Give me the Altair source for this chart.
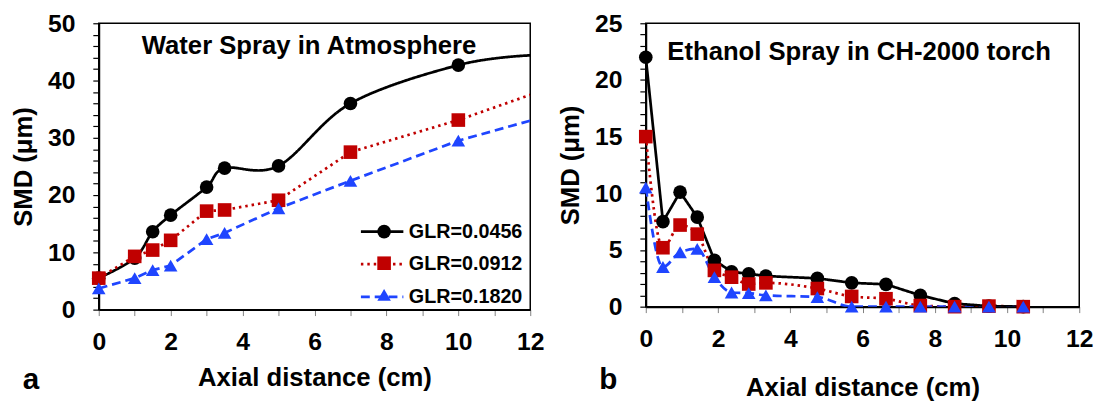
import altair as alt
import pandas as pd

FONT = "Liberation Sans"

series_names = ["GLR=0.0456", "GLR=0.0912", "GLR=0.1820"]
series_colors = ["#000000", "#C00000", "#1F45FF"]
series_shapes = ["circle", "square", "triangle-up"]
series_dashes = [[1, 0], [2.5, 4], [9, 5]]
# marker legend uses its own (label-less) domain so it is not merged with the line legend
marker_names = [n + " " for n in series_names]

# Panel a: water spray in atmosphere
a_x = [0, 1, 1.5, 2, 3, 3.5, 5, 7, 10, 12]
a_black = [5.5, 9.0, 13.6, 16.5, 21.4, 24.7, 25.1, 36.0, 42.7, 44.4]
a_red = [5.5, 9.3, 10.4, 12.1, 17.2, 17.4, 19.1, 27.5, 33.1, 37.5]
a_blue = [3.7, 5.5, 6.9, 7.7, 12.3, 13.4, 17.7, 22.5, 29.5, 33.0]
a_marker = [True, True, True, True, True, True, True, True, True, False]

# Panel b: ethanol spray in CH-2000 torch
b_x = [0, 0.475, 0.95, 1.425, 1.9, 2.375, 2.85, 3.325, 4.75, 5.7, 6.65, 7.6, 8.55, 9.5, 10.45]
b_black = [22.0, 7.5, 10.1, 7.9, 4.1, 3.07, 2.9, 2.7, 2.5, 2.1, 1.97, 1.0, 0.27, 0.05, 0.0]
b_red = [15.0, 5.2, 7.2, 6.4, 3.2, 2.6, 2.0, 2.1, 1.6, 0.9, 0.7, 0.1, 0.0, 0.05, 0.0]
b_blue = [10.5, 3.5, 4.8, 5.1, 2.6, 1.25, 1.2, 1.0, 0.85, 0.0, 0.0, 0.0, 0.0, 0.0, 0.0]
b_marker = [True] * 15

panel_titles = ["Water Spray in Atmosphere", "Ethanol Spray in CH-2000 torch"]
panel_letters = ["a", "b"]
x_title = "Axial distance (cm)"
y_title = "SMD (μm)"


def long_df(xs, ys_by_series, marker_flags):
    rows = []
    for name, mname, ys in zip(series_names, marker_names, ys_by_series):
        for x, y, m in zip(xs, ys, marker_flags):
            rows.append({"x": x, "y": y, "series": name, "series2": mname, "m": m})
    return pd.DataFrame(rows)


def panel(df, y_max, y_step, y_label_step, width, height, smooth_series, smooth_interp,
          title_text, title_x, title_y, letter, letter_x, letter_y, x_title_pad, show_legend):
    x_enc = alt.X(
        "x:Q", title=x_title,
        scale=alt.Scale(domain=[0, 12], nice=False, zero=False),
        axis=alt.Axis(values=list(range(0, 13)),
                      labelExpr="datum.value % 2 == 0 ? datum.label : ''",
                      labelFlush=False, labelOverlap=False, labelPadding=14,
                      titlePadding=x_title_pad, tickColor="#808080", tickWidth=1),
    )
    y_enc = alt.Y(
        "y:Q", title=y_title,
        scale=alt.Scale(domain=[0, y_max], nice=False),
        axis=alt.Axis(values=list(range(0, y_max + 1, y_step)),
                      labelExpr=f"datum.value % {y_label_step} == 0 ? datum.label : ''",
                      labelFlush=False, labelOverlap=False, labelPadding=18, titlePadding=11),
    )
    if show_legend:
        line_leg = alt.Legend(title=None, orient="none", legendX=264, legendY=188,
                              symbolType="stroke", symbolSize=1849, symbolStrokeWidth=2.75,
                              labelFont=FONT, labelFontSize=20, labelFontWeight="bold",
                              labelColor="#000", labelOffset=4, rowPadding=-1, padding=0,
                              labelLimit=0)
        pt_leg = alt.Legend(title=None, orient="none", legendX=279, legendY=201,
                            symbolSize=190, symbolStrokeWidth=0,
                            labelFont=FONT, labelFontSize=20, labelFontWeight="bold",
                            labelExpr="''", labelOpacity=0, rowPadding=12, padding=0,
                            labelLimit=0)
    else:
        line_leg = None
        pt_leg = None

    stroke = alt.Stroke("series:N", scale=alt.Scale(domain=series_names, range=series_colors),
                        legend=line_leg)
    dash = alt.StrokeDash("series:N", scale=alt.Scale(domain=series_names, range=series_dashes),
                          legend=line_leg)
    fill = alt.Fill("series2:N", scale=alt.Scale(domain=marker_names, range=series_colors),
                    legend=pt_leg)
    shape = alt.Shape("series2:N", scale=alt.Scale(domain=marker_names, range=series_shapes),
                      legend=pt_leg)

    base = alt.Chart(df)
    straight_series = [s for s in series_names if s not in smooth_series]
    smooth = base.transform_filter(
        alt.FieldOneOfPredicate(field="series", oneOf=smooth_series)
    ).mark_line(interpolate=smooth_interp, strokeWidth=2.75, clip=True).encode(
        x=x_enc, y=y_enc, stroke=stroke, strokeDash=dash)
    straight = base.transform_filter(
        alt.FieldOneOfPredicate(field="series", oneOf=straight_series)
    ).mark_line(strokeWidth=2.75, clip=True).encode(
        x=x_enc, y=y_enc, stroke=stroke, strokeDash=dash)
    pts = base.transform_filter("datum.m").mark_point(
        filled=True, size=190, opacity=1, strokeWidth=0
    ).encode(x=x_enc, y=y_enc, fill=fill, shape=shape)

    ttl = alt.Chart(pd.DataFrame({"t": [title_text]})).mark_text(
        font=FONT, fontSize=26, fontWeight="bold", align="center", baseline="alphabetic",
        color="#000"
    ).encode(x=alt.value(title_x), y=alt.value(title_y), text="t:N")
    let = alt.Chart(pd.DataFrame({"t": [letter]})).mark_text(
        font=FONT, fontSize=30, fontWeight="bold", align="left", baseline="alphabetic",
        color="#000"
    ).encode(x=alt.value(letter_x), y=alt.value(letter_y), text="t:N")

    return alt.layer(smooth, straight, pts, ttl, let).properties(width=width, height=height)


df_a = long_df(a_x, [a_black, a_red, a_blue], a_marker)
df_b = long_df(b_x, [b_black, b_red, b_blue], b_marker)

left = panel(df_a, 50, 2, 10, 437, 290, [series_names[0]], "cardinal",
             panel_titles[0], 213, 31, panel_letters[0], -77, 370, 11, True)
right = panel(df_b, 25, 1, 5, 439, 287, [series_names[1], series_names[2]], "monotone",
              panel_titles[1], 216, 37, panel_letters[1], -47, 370, 24, False)

chart = alt.hconcat(left, right, spacing=12).resolve_legend(
    stroke="independent", strokeDash="independent", fill="independent", shape="independent"
).properties(
    padding={"left": 10, "top": 8, "right": 5, "bottom": 0},
    background="white",
).configure_axis(
    labelFont=FONT, labelFontSize=25, labelFontWeight="bold", labelColor="#000",
    titleFont=FONT, titleFontSize=26, titleFontWeight="bold", titleColor="#000",
    grid=False, domainColor="#000", domainWidth=2, tickColor="#000", tickSize=6, tickWidth=1.2,
).configure_view(stroke="#000", strokeWidth=1.5)

chart.save("out.html", embed_options={"renderer": "svg", "actions": False})
